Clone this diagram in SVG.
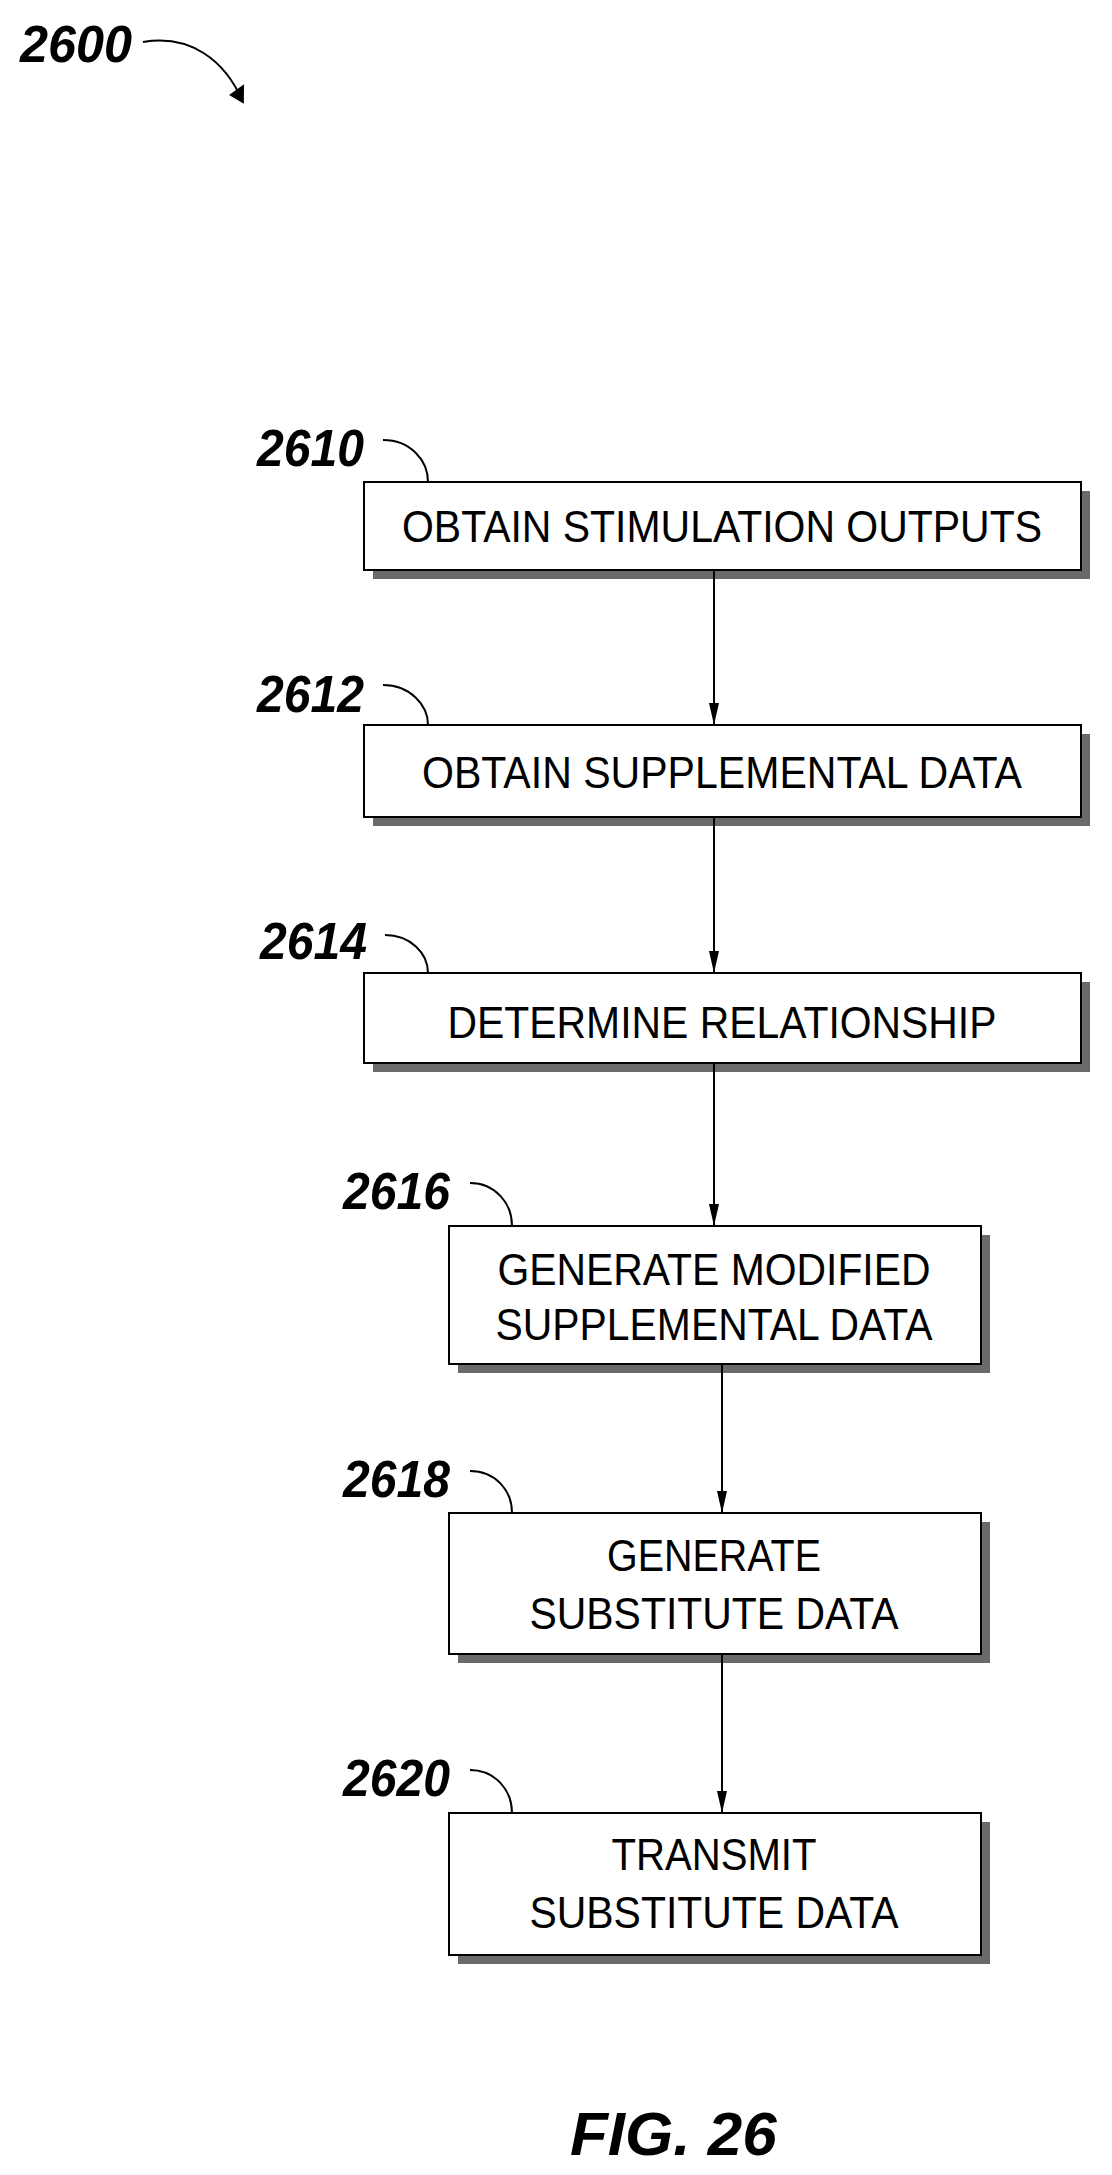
<svg xmlns="http://www.w3.org/2000/svg" width="1112" height="2175" viewBox="0 0 1112 2175">
<style>
.box{fill:#fff;stroke:#000;stroke-width:2}
.sh{fill:#6a6a6a}
.t{font-family:"Liberation Sans",Arial,sans-serif;font-size:45px;text-anchor:middle}
.lb{font-family:"Liberation Sans",Arial,sans-serif;font-size:52px;font-weight:bold;font-style:italic}
.ld{fill:none;stroke:#000;stroke-width:2}
.c{stroke:#000;stroke-width:2;fill:none}
</style>
<defs><marker id="ah" markerWidth="22" markerHeight="10" refX="22" refY="5" orient="auto" markerUnits="userSpaceOnUse" viewBox="0 0 22 10"><path d="M0,0 L22,5 L0,10 Z" fill="#000"/></marker>
<marker id="ah2" markerWidth="20" markerHeight="20" refX="16" refY="10" orient="auto" markerUnits="userSpaceOnUse"><path d="M0,2 L18,10 L4,20 Z" fill="#000"/></marker></defs>
<g id="title"><text class="lb" x="20" y="62" textLength="112" lengthAdjust="spacingAndGlyphs">2600</text><path class="ld" d="M143,42 C190,34 225,60 243,102" marker-end="url(#ah2)"/></g>
<g id="n2610"><rect class="sh" x="373" y="491" width="717" height="88"/><rect class="box" x="364" y="482" width="717" height="88"/><text class="t" x="722" y="542" textLength="640" lengthAdjust="spacingAndGlyphs">OBTAIN STIMULATION OUTPUTS</text><text class="lb" x="257" y="466" textLength="107" lengthAdjust="spacingAndGlyphs">2610</text><path class="ld" d="M383,440 C410,440 428,460 428,482"/></g>
<g id="n2612"><rect class="sh" x="373" y="734" width="717" height="92"/><rect class="box" x="364" y="725" width="717" height="92"/><text class="t" x="722" y="788" textLength="600" lengthAdjust="spacingAndGlyphs">OBTAIN SUPPLEMENTAL DATA</text><text class="lb" x="257" y="712" textLength="107" lengthAdjust="spacingAndGlyphs">2612</text><path class="ld" d="M383,685 C410,685 428,705 428,725"/></g>
<g id="n2614"><rect class="sh" x="373" y="982" width="717" height="90"/><rect class="box" x="364" y="973" width="717" height="90"/><text class="t" x="722" y="1038" textLength="549" lengthAdjust="spacingAndGlyphs">DETERMINE RELATIONSHIP</text><text class="lb" x="260" y="959" textLength="107" lengthAdjust="spacingAndGlyphs">2614</text><path class="ld" d="M385,935 C410,935 428,953 428,973"/></g>
<g id="n2616"><rect class="sh" x="458" y="1235" width="532" height="138"/><rect class="box" x="449" y="1226" width="532" height="138"/><text class="t" x="714" y="1285" textLength="433" lengthAdjust="spacingAndGlyphs">GENERATE MODIFIED</text><text class="t" x="714" y="1340" textLength="437" lengthAdjust="spacingAndGlyphs">SUPPLEMENTAL DATA</text><text class="lb" x="343" y="1209" textLength="107" lengthAdjust="spacingAndGlyphs">2616</text><path class="ld" d="M470,1183 C495,1183 512,1203 512,1226"/></g>
<g id="n2618"><rect class="sh" x="458" y="1522" width="532" height="141"/><rect class="box" x="449" y="1513" width="532" height="141"/><text class="t" x="714" y="1571" textLength="214" lengthAdjust="spacingAndGlyphs">GENERATE</text><text class="t" x="714" y="1629" textLength="369" lengthAdjust="spacingAndGlyphs">SUBSTITUTE DATA</text><text class="lb" x="343" y="1497" textLength="107" lengthAdjust="spacingAndGlyphs">2618</text><path class="ld" d="M470,1471 C495,1471 512,1490 512,1513"/></g>
<g id="n2620"><rect class="sh" x="458" y="1822" width="532" height="142"/><rect class="box" x="449" y="1813" width="532" height="142"/><text class="t" x="714" y="1870" textLength="205" lengthAdjust="spacingAndGlyphs">TRANSMIT</text><text class="t" x="714" y="1928" textLength="369" lengthAdjust="spacingAndGlyphs">SUBSTITUTE DATA</text><text class="lb" x="343" y="1796" textLength="107" lengthAdjust="spacingAndGlyphs">2620</text><path class="ld" d="M470,1770 C495,1770 512,1790 512,1813"/></g>
<g id="connectors">
<line class="c" x1="714" y1="570" x2="714" y2="725" marker-end="url(#ah)"/>
<line class="c" x1="714" y1="817" x2="714" y2="973" marker-end="url(#ah)"/>
<line class="c" x1="714" y1="1063" x2="714" y2="1226" marker-end="url(#ah)"/>
<line class="c" x1="722" y1="1364" x2="722" y2="1513" marker-end="url(#ah)"/>
<line class="c" x1="722" y1="1654" x2="722" y2="1813" marker-end="url(#ah)"/>
</g>
<text class="lb" x="570" y="2155" style="font-size:62px">FIG. 26</text>
</svg>
